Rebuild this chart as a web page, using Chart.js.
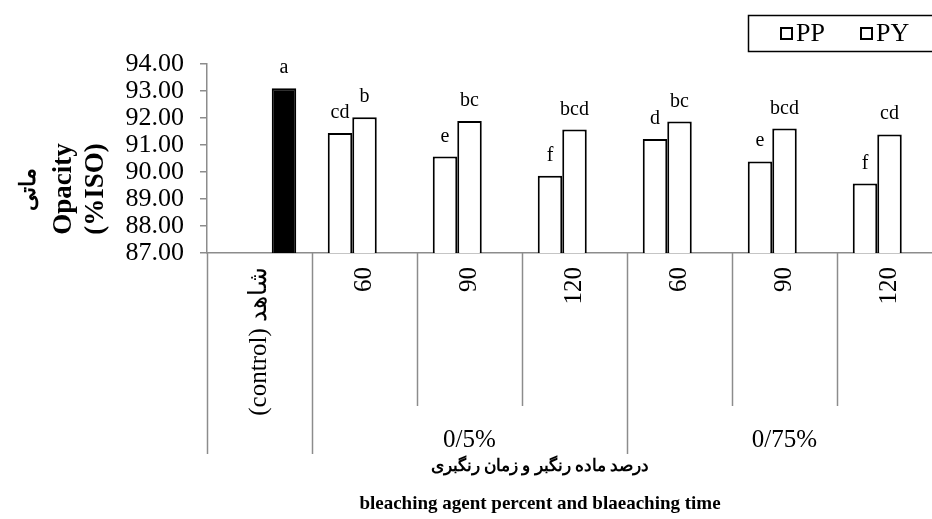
<!DOCTYPE html>
<html>
<head>
<meta charset="utf-8">
<script src="https://cdn.jsdelivr.net/npm/chart.js@4.4.0/dist/chart.umd.min.js"></script>
<style>
    html, body { margin: 0; padding: 0; background: #fff; overflow: hidden; }
</style>
</head>
<body>
<canvas id="opacityChart" width="950" height="519"></canvas>
<script>
// Chart data
const categories = ['(control) شاهد', '60', '90', '120', '60', '90', '120'];
const groupLabels = ['0/5%', '0/75%'];
const groupSpans = [[1, 3], [4, 6]];
const ppValues = [null, 91.44, 90.57, 89.86, 91.22, 90.39, 89.57];
const pyValues = [null, 92.03, 91.89, 91.57, 91.87, 91.61, 91.39];
const controlValues = [93.10, null, null, null, null, null, null];
const ppLetters = ['', 'cd', 'e', 'f', 'd', 'e', 'f'];
const pyLetters = ['', 'b', 'bc', 'bcd', 'bc', 'bcd', 'cd'];
const controlLetters = ['a', '', '', '', '', '', ''];
const yMin = 87;
const yMax = 94;
const yTitle = ['ماتی', 'Opacity', '(%ISO)'];
const xTitleFa = 'درصد ماده رنگبر و زمان رنگبری';
const xTitleEn = 'bleaching agent percent and blaeaching time';

const SERIF = '"Liberation Serif", "DejaVu Serif", serif';
const AXIS_GREY = '#8c8c8c';

// Extra drawing: separators, group labels, letters, legend, titles
const decorPlugin = {
    id: 'decor',
    afterDraw(chart) {
        const ctx = chart.ctx;
        const xs = chart.scales.x;
        const area = chart.chartArea;
        const n = categories.length;

        // category separators below the axis
        ctx.save();
        ctx.strokeStyle = AXIS_GREY;
        ctx.lineWidth = 1.5;
        for (let i = 0; i <= n; i++) {
            let px;
            if (i === 0) px = area.left;
            else if (i === n) px = area.right;
            else px = (xs.getPixelForValue(i - 1) + xs.getPixelForValue(i)) / 2;
            const isLong = (i === 0 || i === 1 || i === 4 || i === n);
            ctx.beginPath();
            ctx.moveTo(Math.round(px) + 0.5, area.bottom);
            ctx.lineTo(Math.round(px) + 0.5, area.bottom + (isLong ? 201 : 153));
            ctx.stroke();
        }
        ctx.restore();

        // group labels
        ctx.save();
        ctx.fillStyle = '#000';
        ctx.font = '25px ' + SERIF;
        ctx.textAlign = 'center';
        ctx.textBaseline = 'middle';
        groupSpans.forEach((span, g) => {
            const a = (xs.getPixelForValue(span[0] - 1) + xs.getPixelForValue(span[0])) / 2;
            const b = span[1] + 1 < n ? (xs.getPixelForValue(span[1]) + xs.getPixelForValue(span[1] + 1)) / 2 : area.right;
            ctx.fillText(groupLabels[g], (a + b) / 2, area.bottom + 187);
        });
        ctx.restore();

        // significance letters above bars
        const letterSets = [ppLetters, pyLetters, controlLetters];
        ctx.save();
        ctx.fillStyle = '#000';
        ctx.font = '20px ' + SERIF;
        ctx.textAlign = 'center';
        ctx.textBaseline = 'alphabetic';
        chart.data.datasets.forEach((ds, d) => {
            const meta = chart.getDatasetMeta(d);
            meta.data.forEach((bar, i) => {
                const txt = letterSets[d][i];
                if (!txt || ds.data[i] == null) return;
                ctx.fillText(txt, bar.x, bar.y - 15);
            });
        });
        ctx.restore();

        // legend with border
        ctx.save();
        ctx.strokeStyle = '#000';
        ctx.lineWidth = 1.5;
        ctx.strokeRect(748.5, 15.5, 200, 36);
        ctx.font = '26px ' + SERIF;
        ctx.textBaseline = 'middle';
        ctx.fillStyle = '#000';
        const legendX = [781, 861];
        chart.data.datasets.slice(0, 2).forEach((ds, d) => {
            ctx.lineWidth = 2;
            ctx.strokeRect(legendX[d], 28, 11, 11);
            ctx.fillText(ds.label, legendX[d] + 15, 34);
        });
        ctx.restore();

        // y axis title (rotated, three lines)
        ctx.save();
        ctx.fillStyle = '#000';
        ctx.textAlign = 'center';
        ctx.textBaseline = 'middle';
        const titleX = [29, 64, 96];
        const titleFonts = ['bold 22px ' + SERIF, 'bold 27px ' + SERIF, 'bold 27px ' + SERIF];
        yTitle.forEach((t, k) => {
            ctx.save();
            ctx.translate(titleX[k], 189);
            ctx.rotate(-Math.PI / 2);
            ctx.font = titleFonts[k];
            ctx.fillText(t, 0, 0);
            ctx.restore();
        });
        ctx.restore();

        // x axis titles
        ctx.save();
        ctx.fillStyle = '#000';
        ctx.textAlign = 'center';
        ctx.textBaseline = 'middle';
        ctx.font = 'bold 17px ' + SERIF;
        ctx.fillText(xTitleFa, 540, 467);
        ctx.font = 'bold 19px ' + SERIF;
        ctx.fillText(xTitleEn, 540, 504);
        ctx.restore();
    }
};

const ctx = document.getElementById('opacityChart').getContext('2d');
const opacityChart = new Chart(ctx, {
    type: 'bar',
    data: {
        labels: categories,
        datasets: [{
            label: 'PP',
            data: ppValues,
            backgroundColor: '#fff',
            borderColor: '#000',
            borderWidth: 2,
            borderSkipped: 'bottom'
        }, {
            label: 'PY',
            data: pyValues,
            backgroundColor: '#fff',
            borderColor: '#000',
            borderWidth: 2,
            borderSkipped: 'bottom'
        }, {
            label: 'control',
            data: controlValues,
            backgroundColor: '#000',
            borderColor: '#000',
            borderWidth: 2,
            borderSkipped: 'bottom'
        }]
    },
    options: {
        responsive: false,
        animation: false,
        devicePixelRatio: 1,
        categoryPercentage: 0.7,
        barPercentage: 1.0,
        layout: {
            padding: { left: 0, right: 8, top: 64, bottom: 0 }
        },
        plugins: {
            legend: { display: false },
            tooltip: { enabled: false }
        },
        scales: {
            x: {
                afterFit: function(scale) { scale.height = 266; },
                ticks: {
                    autoSkip: false,
                    minRotation: 90,
                    maxRotation: 90,
                    padding: 14,
                    color: '#000',
                    font: { family: SERIF, size: 25 }
                },
                grid: { display: false, drawTicks: false },
                border: { display: true, color: AXIS_GREY, width: 1.5 }
            },
            y: {
                min: yMin,
                max: yMax,
                afterFit: function(scale) { scale.width = 207; },
                ticks: {
                    stepSize: 1,
                    autoSkip: false,
                    padding: 16,
                    color: '#000',
                    font: { family: SERIF, size: 26, lineHeight: 1 },
                    callback: function(v) { return v.toFixed(2); }
                },
                grid: {
                    drawOnChartArea: false,
                    tickLength: 7,
                    color: AXIS_GREY,
                    lineWidth: 1.5
                },
                border: { display: true, color: AXIS_GREY, width: 1.5 }
            }
        }
    },
    plugins: [decorPlugin]
});
</script>
</body>
</html>
